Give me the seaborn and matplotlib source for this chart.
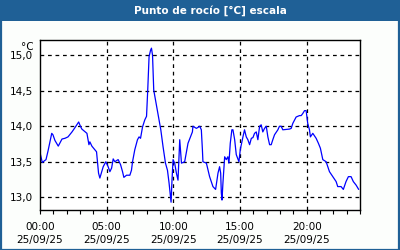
import matplotlib
matplotlib.use("Agg")
import matplotlib.pyplot as plt
import matplotlib.patches as mpatches
import numpy as np
import pandas as pd
import seaborn as sns

# hours since 00:00 on 25/09/25
hours = [0.00, 0.17, 0.45, 0.60, 0.88, 0.97, 1.12, 1.37, 1.65, 1.87, 2.10, 2.40, 2.62, 2.90, 3.03,
         3.14, 3.52, 3.67, 3.74, 3.89, 4.24, 4.39, 4.49, 4.74, 4.94, 5.11, 5.24, 5.37, 5.49, 5.61,
         5.86, 6.04, 6.19, 6.29, 6.49, 6.74, 6.86, 6.94, 7.11, 7.31, 7.43, 7.54, 7.69, 7.86, 7.99,
         8.08, 8.18, 8.29, 8.36, 8.44, 8.53, 8.73, 8.93, 9.06, 9.23, 9.41, 9.56, 9.68, 9.78, 9.83,
         9.90, 9.98, 10.10, 10.23, 10.35, 10.48, 10.61, 10.85, 11.10, 11.43, 11.47, 11.73, 11.98,
         12.10, 12.18, 12.22, 12.48, 12.72, 12.97, 13.17, 13.35, 13.47, 13.55, 13.60, 13.65, 13.72,
         13.85, 13.97, 14.09, 14.17, 14.27, 14.39, 14.47, 14.60, 14.72, 14.92, 15.02, 15.22, 15.34,
         15.47, 15.59, 15.72, 15.85, 15.97, 16.09, 16.22, 16.34, 16.47, 16.59, 16.71, 16.84, 16.97,
         17.09, 17.22, 17.34, 17.46, 17.59, 17.84, 17.96, 18.09, 18.21, 18.71, 18.84, 18.96, 19.21,
         19.46, 19.59, 19.71, 19.84, 19.96, 20.08, 20.21, 20.28, 20.46, 20.71, 20.88, 21.03, 21.21,
         21.46, 21.71, 21.96, 22.21, 22.33, 22.58, 22.75, 22.95, 23.13, 23.33, 23.50, 23.71, 23.90]

dew_point = [13.63, 13.49, 13.53, 13.65, 13.90, 13.88, 13.80, 13.72, 13.82, 13.83, 13.85, 13.92, 13.98, 14.06, 14.00,
             13.96, 13.90, 13.74, 13.78, 13.72, 13.64, 13.34, 13.27, 13.43, 13.50, 13.43, 13.36, 13.41, 13.54, 13.50,
             13.53, 13.46, 13.36, 13.28, 13.31, 13.31, 13.38, 13.50, 13.67, 13.81, 13.85, 13.83, 13.99, 14.09, 14.14,
             14.51, 14.98, 15.07, 15.10, 15.00, 14.51, 14.30, 14.09, 13.95, 13.71, 13.48, 13.38, 13.20, 13.01, 12.93,
             13.24, 13.53, 13.48, 13.34, 13.24, 13.81, 13.48, 13.50, 13.76, 13.92, 14.00, 13.97, 14.00,
             13.95, 13.67, 13.50, 13.48, 13.29, 13.15, 13.11, 13.34, 13.43, 13.34, 13.06, 12.96, 13.20,
             13.57, 13.53, 13.57, 13.48, 13.76, 13.95, 13.95, 13.81, 13.60, 13.50, 13.67, 13.85, 13.95,
             13.85, 13.81, 13.74, 13.83, 13.84, 13.90, 13.92, 13.81, 14.00, 14.02, 13.92, 13.97, 14.00,
             13.85, 13.74, 13.74, 13.81, 13.88, 13.95, 14.00, 14.00, 13.95, 13.96, 13.97, 14.04, 14.13,
             14.15, 14.15, 14.18, 14.22, 14.22, 14.04, 13.95, 13.85, 13.90, 13.83, 13.76, 13.69, 13.53,
             13.50, 13.36, 13.29, 13.22, 13.15, 13.15, 13.11, 13.22, 13.29, 13.29, 13.22, 13.17, 13.11]

x_ticks = [0, 5, 10, 15, 20]
x_labels = ["00:00\n25/09/25", "05:00\n25/09/25", "10:00\n25/09/25", "15:00\n25/09/25", "20:00\n25/09/25"]
y_ticks = [13.0, 13.5, 14.0, 14.5, 15.0]
y_labels = ["13,0", "13,5", "14,0", "14,5", "15,0"]
title = "Punto de rocío [°C] escala"
unit = "°C"

sns.set_theme(style="white")
plt.rcParams['font.family'] = ['DejaVu Sans']

BLUE = "#1f6096"
fig = plt.figure(figsize=(4, 2.5), dpi=100, facecolor="#fcfefc")
ax = fig.add_axes([0.1, 0.16, 0.8, 0.68])
ax.set_facecolor("white")

df = pd.DataFrame({"h": hours, "v": dew_point})
sns.lineplot(data=df, x="h", y="v", ax=ax, color="#0000ff", linewidth=0.9)

ax.set_xlim(0, 24)
ax.set_ylim(12.82, 15.215)
ax.set_xticks(x_ticks)
ax.set_xticklabels(x_labels, fontsize=7.5, linespacing=1.45)
ax.set_xticks(range(0, 25), minor=True)
ax.set_yticks(y_ticks)
ax.set_yticklabels(y_labels, fontsize=7.5)
ax.set_xlabel("")
ax.set_ylabel("")
ax.tick_params(axis="x", which="both", direction="out", length=3, width=0.8, color="black", pad=5.5, bottom=True)
ax.tick_params(axis="y", which="both", length=0, pad=5)
for lab in ax.get_xticklabels() + ax.get_yticklabels():
    lab.set_color("#000000")
for s in ax.spines.values():
    s.set_color("black")
    s.set_linewidth(1.0)
for xv in x_ticks[1:]:
    ax.axvline(xv, color="black", lw=0.9, ls=(0, (3, 3)), zorder=0.5)
for yv in y_ticks:
    ax.axhline(yv, color="black", lw=0.9, ls=(0, (3, 3)), zorder=0.5)
ax.grid(False)

ax.text(-0.02, 0.99, unit, transform=ax.transAxes, ha="right", va="top", fontsize=7.5, color="black")

# title bar and frame
fig.patches.append(mpatches.Rectangle((0, 1 - 20.5 / 250), 1, 20.5 / 250, transform=fig.transFigure,
                                      facecolor=BLUE, edgecolor="none", zorder=0))
fig.patches.append(mpatches.Rectangle((0.5 / 400, 0.5 / 250), 1 - 1.5 / 400, 1 - 1.0 / 250, transform=fig.transFigure,
                                      facecolor="none", edgecolor=BLUE, linewidth=1.6, zorder=1))
fig.text(0.525, 1 - 10.5 / 250, title, ha="center", va="center", color="white", fontsize=7.5, fontweight="bold")

fig.savefig("out.png", dpi=100, facecolor=fig.get_facecolor())
